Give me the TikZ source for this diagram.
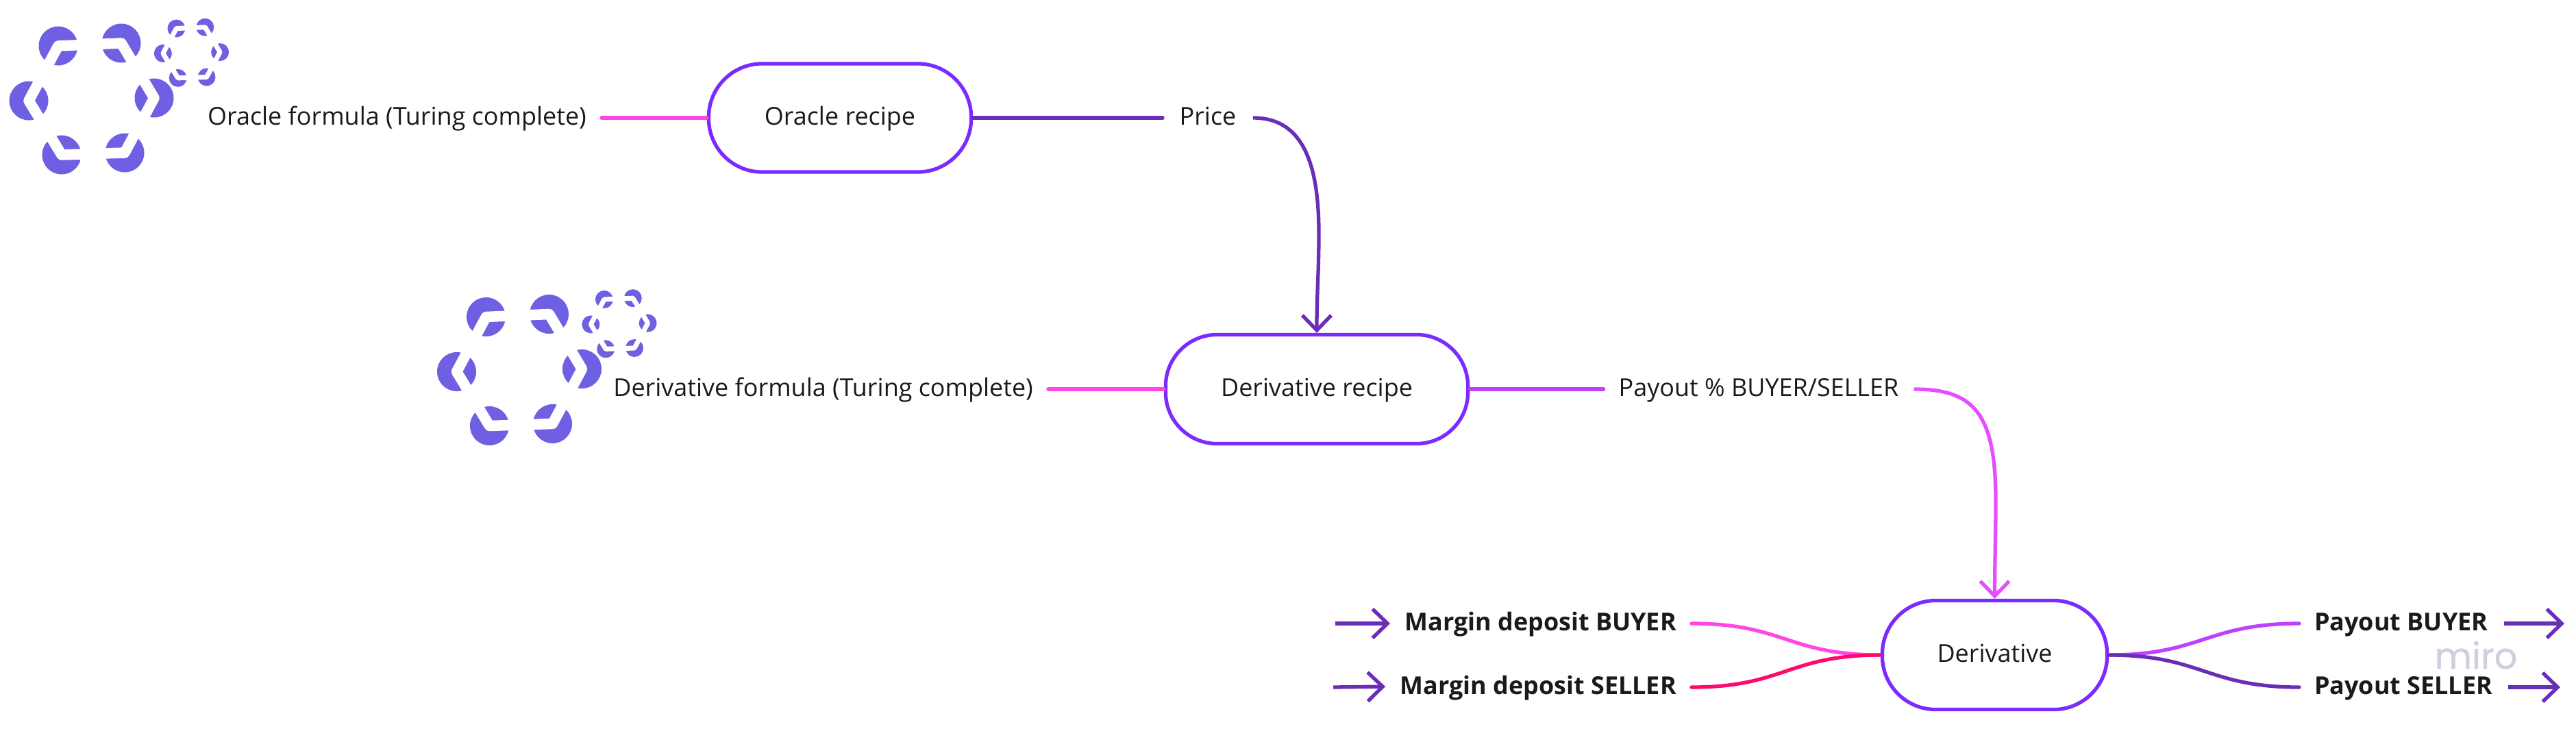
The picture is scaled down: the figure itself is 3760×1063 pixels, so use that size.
\documentclass[tikz,border=0pt]{standalone}
\usepackage{fontspec}
\setmainfont{Open Sans}
\newfontfamily\miroface[FakeBold=0.6]{Poppins}
\usetikzlibrary{arrows.meta}
\definecolor{brandv}{HTML}{7B2BFF}
\definecolor{deep}{HTML}{6A2DB8}
\definecolor{pinkl}{HTML}{FF47E6}
\definecolor{hotp}{HTML}{FF0A6C}
\definecolor{viol}{HTML}{BF40FF}
\definecolor{magl}{HTML}{E64DFF}
\definecolor{logoc}{HTML}{6E5FE3}
\definecolor{inkc}{HTML}{1A1A1A}
\definecolor{wmark}{HTML}{CFCFDD}
\tikzset{
  x=0.01cm,y=-0.01cm,
  pill/.style={draw=brandv,line width=1.5pt,fill=white,rounded corners=0.78cm,text=inkc,font=\fontsize{10.22}{13}\selectfont,align=center,inner sep=0pt,text height=11pt,text depth=5.3pt},
  lab/.style={text=inkc,font=\fontsize{10.22}{13}\selectfont,inner xsep=6.3pt,inner ysep=0pt,outer sep=0pt,text height=11pt,text depth=5.3pt},
  blab/.style={lab,font=\fontsize{10.22}{13}\selectfont\bfseries},
  con/.style={line width=1.5pt,line cap=round},
  conarrow/.style={line width=1.5pt,-{Straight Barb[length=6.2pt,width=12pt]}},
}
\newcommand\drawlogo[4]{%
  \begin{scope}[shift={(#1,#2)},scale=#3]
    \fill[logoc] (-48.5,-78) circle[radius=28.5] (43.5,-82) circle[radius=28.5]
      (91.5,-2) circle[radius=28.5] (48.5,78) circle[radius=28.5]
      (-43.5,81) circle[radius=28.5] (-91.5,2) circle[radius=28.5];
    \draw[white,line width=#4,line join=round] (-48.5,-78) -- (43.5,-82) -- (91.5,-2) -- (48.5,78) -- (-43.5,81) -- (-91.5,2) -- cycle;
  \end{scope}}
\begin{document}
\begin{tikzpicture}
\useasboundingbox[fill=white] (0,0) rectangle (3760,1063);
\drawlogo{133.5}{145}{1}{4.4pt}
\drawlogo{279.5}{77}{0.455}{2pt}
\drawlogo{758}{540.5}{1}{4.4pt}
\drawlogo{904}{472.5}{0.455}{2pt}

\node[pill,minimum width=3.83cm,minimum height=1.58cm] (orecipe) at (1226,172) {Oracle recipe};
\node[pill,minimum width=4.41cm,minimum height=1.59cm,rounded corners=0.75cm] (drecipe) at (1922,568) {Derivative recipe};
\node[pill,minimum width=3.28cm,minimum height=1.59cm] (deriv) at (2911.5,956) {Derivative};

\node[lab,anchor=east] (oform) at (878,172) {Oracle formula (Turing complete)};
\node[lab,anchor=east] (dform) at (1530,568) {Derivative formula (Turing complete)};
\node[lab,inner xsep=7pt] (price) at (1763,172) {Price};
\node[lab] (payp) at (2567,568) {Payout \% BUYER/SELLER};
\node[blab,anchor=east] (mbuy) at (2469,910) {Margin deposit BUYER};
\node[blab,anchor=east] (msell) at (2469,1003) {Margin deposit SELLER};
\node[blab,anchor=west] (pbuy) at (3356,910) {Payout BUYER};
\node[blab,anchor=west] (psell) at (3356,1003) {Payout SELLER};
\node[text=wmark,font=\fontsize{15}{18}\selectfont\miroface,inner sep=0pt,anchor=base] (wm) at (3614,976) {miro};

\draw[con,pinkl] (oform.east) -- (orecipe.west);
\draw[con,deep] (orecipe.east) -- (price.west);
\draw[conarrow,deep] (price.east) .. controls +(68,0) and +(0,-110) .. (1925,340) .. controls +(0,60) and +(0,-60) .. (drecipe.north);
\draw[con,pinkl] (dform.east) -- (drecipe.west);
\draw[con,viol] (drecipe.east) -- (payp.west);
\draw[conarrow,magl] (payp.east) .. controls +(85,0) and +(0,-130) .. (2913,730) .. controls +(0,50) and +(0,-50) .. (deriv.north);
\draw[con,pinkl] (mbuy.east) .. controls +(135,0) and +(-135,0) .. (deriv.west);
\draw[con,hotp] (msell.east) .. controls +(135,0) and +(-135,0) .. (deriv.west);
\draw[con,viol] (deriv.east) .. controls +(135,0) and +(-135,0) .. (pbuy.west);
\draw[con,deep] (deriv.east) .. controls +(135,0) and +(-135,0) .. (psell.west);

\coordinate (a1s) at (1949,910); \coordinate (a1e) at (2029,910);
\coordinate (a2s) at (1946,1003); \coordinate (a2e) at (2022,1002);
\coordinate (a3s) at (3655,910); \coordinate (a3e) at (3743,910);
\coordinate (a4s) at (3661,1003); \coordinate (a4e) at (3737,1003);
\draw[conarrow,deep] (a1s) -- (a1e);
\draw[conarrow,deep] (a2s) -- (a2e);
\draw[conarrow,deep] (a3s) -- (a3e);
\draw[conarrow,deep] (a4s) -- (a4e);
\end{tikzpicture}
\end{document}
